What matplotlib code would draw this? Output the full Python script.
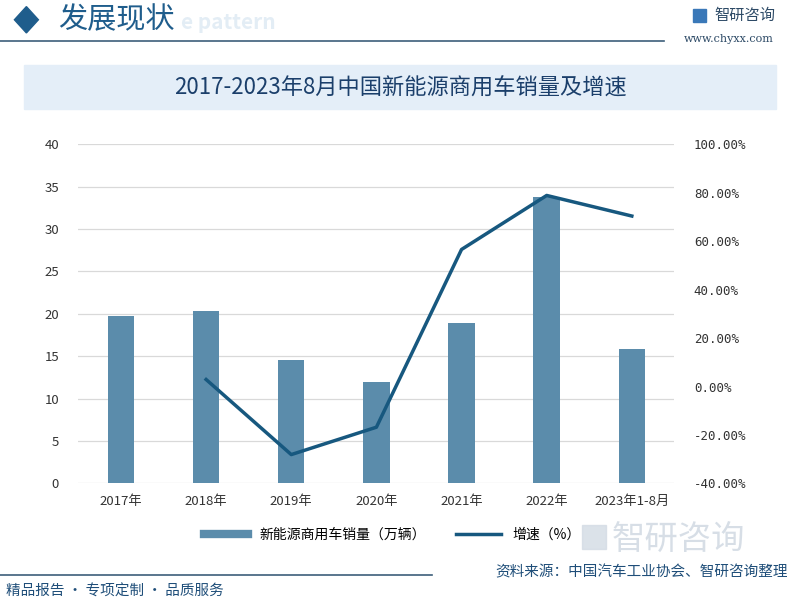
import numpy as np
import matplotlib.pyplot as plt
from matplotlib.patches import Rectangle, Polygon
from matplotlib.lines import Line2D

plt.rcParams['font.family'] = ['Noto Sans CJK SC', 'DejaVu Sans']

# data
years = ['2017年', '2018年', '2019年', '2020年', '2021年', '2022年', '2023年1-8月']
sales = [19.7, 20.3, 14.6, 12.0, 18.9, 33.8, 15.8]          # 万辆
growth = [np.nan, 2.9, -28.1, -16.8, 56.6, 78.9, 70.4]      # %

bar_color = '#5b8cab'
line_color = '#17587f'
navy = '#1b3f6b'

fig = plt.figure(figsize=(8, 5.99), dpi=100)

# header
fig.patches.append(Polygon([[0.018, 0.967], [0.033, 0.945], [0.048, 0.967], [0.033, 0.989]],
                           closed=True, transform=fig.transFigure, color='#1f5d8c'))
fig.text(0.226, 0.963, 'e pattern', fontsize=15, color='#e3edf5', va='center', weight='bold')
fig.text(0.073, 0.966, '发展现状', fontsize=21, color='#1f5d8c', va='center', weight='medium')
fig.add_artist(Line2D([0.0, 0.83], [0.932, 0.932], color='#3d5f7a', lw=1.2))
fig.text(0.893, 0.975, '智研咨询', fontsize=11, color='#2d4a66', va='center')
fig.text(0.855, 0.935, 'www.chyxx.com', fontsize=8, color='#2d4a66', va='center', family='DejaVu Serif')
fig.patches.append(Rectangle((0.866, 0.963), 0.016, 0.022, transform=fig.transFigure, color='#3a78b8'))

# title box
fig.patches.append(Rectangle((0.03, 0.818), 0.94, 0.073, transform=fig.transFigure,
                             color='#e4eef8', zorder=0))
fig.text(0.5, 0.853, '2017-2023年8月中国新能源商用车销量及增速', fontsize=16,
         color=navy, ha='center', va='center', weight='medium')

ax = fig.add_axes([0.098, 0.193, 0.745, 0.566])
x = np.arange(len(years))
ax.bar(x, sales, width=0.31, color=bar_color, zorder=2, label='新能源商用车销量（万辆）')
ax.set_ylim(0, 40)
ax.set_yticks(range(0, 41, 5))
ax.set_xlim(-0.5, len(years) - 0.5)
ax.set_xticks(x)
ax.set_xticklabels(years, fontsize=9.5, color='#333333')
ax.tick_params(axis='y', labelsize=9.5, colors='#333333', length=0, pad=14)
ax.tick_params(axis='x', length=0, pad=8)
ax.grid(axis='y', color='#d9d9d9', lw=0.9, zorder=0)
for s in ax.spines.values():
    s.set_visible(False)

ax2 = ax.twinx()
ax2.plot(x, growth, color=line_color, lw=2.5, zorder=3, label='增速（%）')
ax2.set_ylim(-40, 100)
ax2.set_yticks(range(-40, 101, 20))
ax2.set_yticklabels([f'{v}.00%' for v in range(-40, 101, 20)], family='DejaVu Sans Mono')
ax2.tick_params(axis='y', labelsize=9, colors='#333333', length=0, pad=14)
for s in ax2.spines.values():
    s.set_visible(False)

h1, l1 = ax.get_legend_handles_labels()
h2, l2 = ax2.get_legend_handles_labels()
handles = [Line2D([0], [0], color=bar_color, lw=6), h2[0]]
fig.legend(handles, l1 + l2, loc='center', bbox_to_anchor=(0.49, 0.107), ncol=2,
           frameon=False, fontsize=10, handlelength=3.2, columnspacing=2.2)

# faint logo watermark
fig.patches.append(Rectangle((0.727, 0.083), 0.03, 0.04, transform=fig.transFigure,
                             color='#d3dbe4', alpha=0.8))
fig.text(0.765, 0.1, '智研咨询', fontsize=24, color='#d3dbe4', va='center', alpha=0.9)

# footer
fig.add_artist(Line2D([0.0, 0.54], [0.04, 0.04], color='#3d5f7a', lw=1.2))
fig.text(0.985, 0.045, '资料来源：中国汽车工业协会、智研咨询整理', fontsize=10.5,
         color='#1f4e79', ha='right', va='center')
fig.text(0.007, 0.013, '精品报告 · 专项定制 · 品质服务', fontsize=10.5,
         color='#1f4e79', ha='left', va='center')

fig.savefig('out.png', dpi=100)
